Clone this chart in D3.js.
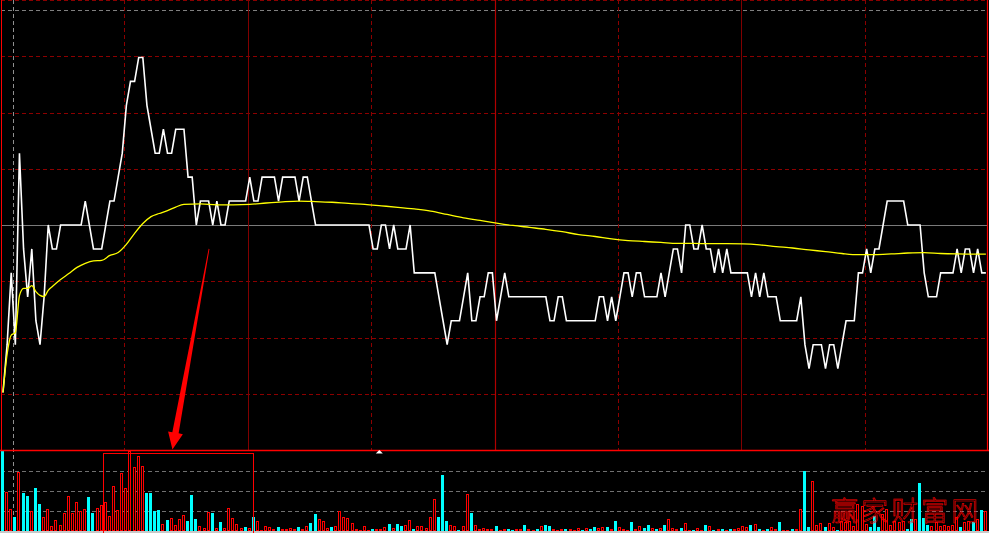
<!DOCTYPE html>
<html><head><meta charset="utf-8">
<script src="https://cdn.jsdelivr.net/npm/d3@7/dist/d3.min.js"></script>
<style>html,body{margin:0;padding:0;background:#000;overflow:hidden}</style>
</head><body><svg id="c" width="989" height="533"></svg>
<script>
// ---- data (price in ticks of 0.01 relative to previous close, minute index 0..239) ----
const priceTicks = [
-7,-5,-2,-5,3,-1,-3,-1,-4,-5,
-3,0,-1,-1,0,0,0,0,0,0,
1,0,-1,-1,-1,0,1,1,2,3,
5,6,6,7,7,5,4,3,3,4,
3,3,4,4,4,2,2,0,1,1,
1,0,1,0,0,1,1,1,1,1,
2,1,1,2,2,2,2,1,2,2,
2,2,1,2,2,1,0,0,0,0,
0,0,0,0,0,0,0,0,0,0,
-1,-1,0,0,-1,0,-1,-1,-1,0,
-2,-2,-2,-2,-2,-2,-3,-4,-5,-4,
-4,-4,-3,-2,-4,-4,-3,-3,-2,-2,
-4,-3,-2,-3,-3,-3,-3,-3,-3,-3,
-3,-3,-3,-4,-4,-3,-3,-4,-4,-4,
-4,-4,-4,-4,-4,-3,-3,-4,-3,-4,
-3,-2,-2,-3,-2,-2,-3,-3,-3,-3,
-2,-3,-2,-1,-1,-2,0,0,-1,-1,
0,-1,-1,-2,-1,-2,-1,-2,-2,-2,
-2,-2,-3,-2,-3,-2,-3,-3,-3,-4,
-4,-4,-4,-4,-3,-5,-6,-5,-5,-5,
-6,-5,-5,-6,-5,-4,-4,-4,-2,-2,
-1,-2,-1,-1,0,1,1,1,1,1,
0,0,0,0,-2,-3,-3,-3,-2,-2,
-2,-2,-1,-2,-1,-1,-2,-1,-2,-2];

const avgMinute = [0,1,2,3,4,5,6,7,8,9,10,11,12,14,16,18,20,22,24,26,28,30,32,34,36,38,40,42,44,48,52,56,60,64,68,72,76,80,84,88,92,96,100,104,108,112,116,120,124,128,132,136,140,144,148,152,156,160,164,168,172,176,180,184,188,192,196,200,204,208,212,216,220,224,228,232,236,239];
const avgTicks = [-7.0,-5.4,-4.6,-4.5,-2.95,-2.65,-2.65,-2.53,-2.78,-2.94,-2.99,-2.73,-2.57,-2.28,-2.03,-1.77,-1.6,-1.5,-1.48,-1.27,-1.15,-0.81,-0.35,0.06,0.35,0.48,0.6,0.75,0.86,0.88,0.84,0.84,0.86,0.92,0.97,1.0,0.98,0.95,0.9,0.86,0.8,0.74,0.67,0.58,0.44,0.3,0.19,0.08,-0.02,-0.1,-0.18,-0.28,-0.4,-0.48,-0.58,-0.65,-0.69,-0.73,-0.77,-0.77,-0.78,-0.78,-0.79,-0.83,-0.9,-0.96,-1.04,-1.11,-1.19,-1.24,-1.24,-1.21,-1.17,-1.15,-1.19,-1.21,-1.22,-1.22];

// volume per minute (hundreds of lots)
const volume = [
80,39,22,14,59,38,35,20,43,27,
14,22,5,11,6,18,35,18,29,20,
22,34,18,23,26,29,15,45,21,58,
43,80,64,75,65,38,38,20,21,7,
11,13,6,12,16,10,36,12,5,3,
19,18,3,9,3,23,13,7,3,4,
3,14,10,1,5,4,2,4,2,2,
3,2,4,2,5,8,17,12,10,3,
4,5,20,14,13,8,2,1,5,1,
2,2,2,4,7,3,7,5,6,11,
2,5,5,3,14,32,14,56,10,6,
5,1,5,37,18,6,2,3,2,2,
5,1,2,2,1,2,2,6,2,1,
2,5,6,5,2,1,2,2,2,1,
3,1,3,2,4,3,4,4,2,10,
4,2,1,9,2,5,3,6,3,2,
3,6,12,3,2,3,8,1,1,3,
1,6,5,1,2,2,1,2,2,3,
5,4,6,7,2,1,2,4,2,9,
1,1,2,2,22,60,4,50,6,8,
4,8,4,1,10,9,10,5,27,25,
7,4,15,4,17,22,6,10,9,10,
2,12,12,48,13,6,5,9,5,6,
5,6,14,4,9,10,9,12,21,20];
// 1 = up (red), -1 = down (cyan)
const volSide = [
-1,1,1,-1,1,-1,-1,1,-1,-1,
1,1,1,1,1,1,1,1,1,1,
1,-1,-1,1,1,1,1,1,1,1,
1,1,1,1,1,-1,-1,-1,-1,1,
-1,1,1,1,1,-1,-1,-1,1,1,
1,-1,1,-1,1,1,1,1,1,-1,
1,-1,1,1,1,1,1,-1,1,1,
1,1,-1,1,1,-1,-1,1,1,1,
-1,1,1,1,1,1,1,1,1,1,
-1,1,1,1,-1,1,-1,-1,1,1,
-1,1,1,1,1,1,-1,-1,-1,1,
1,-1,1,1,-1,1,1,1,1,1,
-1,1,1,-1,-1,1,1,-1,1,1,
-1,1,-1,-1,1,1,1,-1,1,1,
1,-1,1,-1,-1,1,1,-1,1,-1,
1,1,1,-1,1,1,-1,-1,1,-1,
1,-1,1,1,1,-1,1,1,-1,1,
1,-1,1,-1,1,-1,1,-1,1,1,
1,1,-1,1,-1,1,-1,1,1,-1,
1,1,-1,1,1,-1,-1,1,1,1,
-1,1,1,-1,1,1,1,1,1,1,
1,-1,-1,-1,1,1,1,1,1,1,
-1,-1,1,-1,-1,-1,1,1,1,1,
1,1,1,-1,1,1,-1,1,-1,1];

const solidTimeGrid = [60, 180];
const midTimeGrid = [120];
const dashedTimeGrid = [30, 90, 150, 210];
const priceGridSteps = [-4,-3,-2,-1,1,2,3,4];
const volGridLevels = [20, 40, 60];
const upperRefTicks = 9.0;
const cursorMinute = 2.35;
const markMinute = 91.5;
const boxRange = {from: 24.9, to: 61.35, top: 77.7};
const arrowFrom = {minute: 50.1, tick: -1.0};
const arrowTo = {minute: 41.2, tick: -9.38};
const watermark = "赢家财富网";

// ---- scales ----
const W = 989, H = 533;
const x = d3.scaleLinear().domain([0, 240]).range([1, 988]);
const px = m => x(m) + 2;
const yMax = 9.4;
const y = d3.scaleLinear().domain([-yMax, yMax]).range([450, 0]);
const yv = d3.scaleLinear().domain([0, 80]).range([531, 451]);

const svg = d3.select('#c');
svg.append('rect').attr('width', W).attr('height', H).attr('fill', '#000');

const g = svg.append('g');
const gridRed = '#8c0000';

// horizontal price grid
g.selectAll('.hg').data(priceGridSteps).join('line')
  .attr('x1', x(0)).attr('x2', x(240))
  .attr('y1', d => Math.round(y(d * yMax / 4)) + 0.5).attr('y2', d => Math.round(y(d * yMax / 4)) + 0.5)
  .attr('stroke', gridRed).attr('stroke-width', 1).attr('stroke-dasharray', '4,3');
// previous close line
g.append('line').attr('x1', x(0)).attr('x2', x(240))
  .attr('y1', Math.round(y(0)) + 0.5).attr('y2', Math.round(y(0)) + 0.5)
  .attr('stroke', '#7a7a7a').attr('stroke-width', 1);
// upper gray dashed reference
g.append('line').attr('x1', x(0)).attr('x2', x(240))
  .attr('y1', Math.round(y(upperRefTicks)) + 0.5).attr('y2', Math.round(y(upperRefTicks)) + 0.5)
  .attr('stroke', '#808080').attr('stroke-width', 1).attr('stroke-dasharray', '4,3');

// vertical time grid
g.selectAll('.vd').data(dashedTimeGrid).join('line')
  .attr('x1', d => Math.round(x(d)) + 0.5).attr('x2', d => Math.round(x(d)) + 0.5)
  .attr('y1', 0).attr('y2', 450)
  .attr('stroke', gridRed).attr('stroke-width', 1).attr('stroke-dasharray', '4,3');
g.selectAll('.vs').data(solidTimeGrid).join('line')
  .attr('x1', d => Math.round(x(d)) + 0.5).attr('x2', d => Math.round(x(d)) + 0.5)
  .attr('y1', 0).attr('y2', 450)
  .attr('stroke', '#800000').attr('stroke-width', 1);
g.selectAll('.vm').data(midTimeGrid).join('line')
  .attr('x1', d => Math.round(x(d)) + 0.5).attr('x2', d => Math.round(x(d)) + 0.5)
  .attr('y1', 0).attr('y2', 450)
  .attr('stroke', '#b00000').attr('stroke-width', 1.2);

// volume grid
g.selectAll('.vg').data(volGridLevels).join('line')
  .attr('x1', x(0)).attr('x2', x(240))
  .attr('y1', d => Math.round(yv(d)) + 0.5).attr('y2', d => Math.round(yv(d)) + 0.5)
  .attr('stroke', '#707070').attr('stroke-width', 1).attr('stroke-dasharray', '4,3');

// cursor gray dashed vertical
g.append('line').attr('x1', Math.round(px(cursorMinute)) + 0.5).attr('x2', Math.round(px(cursorMinute)) + 0.5)
  .attr('y1', 0).attr('y2', H)
  .attr('stroke', '#909090').attr('stroke-width', 1).attr('stroke-dasharray', '4,3');

// volume bars
const bars = volume.map((v, i) => ({i, v, s: volSide[i]}));
const bw = 3;
g.selectAll('.bc').data(bars.filter(d => d.s < 0)).join('rect')
  .attr('x', d => Math.round(x(d.i))).attr('width', bw)
  .attr('y', d => Math.round(yv(d.v))).attr('height', d => Math.max(1, 531 - Math.round(yv(d.v))))
  .attr('fill', '#00ffff').attr('shape-rendering', 'crispEdges');
g.selectAll('.br').data(bars.filter(d => d.s > 0)).join('rect')
  .attr('x', d => Math.round(x(d.i)) + 0.5).attr('width', bw - 1)
  .attr('y', d => Math.round(yv(d.v)) + 0.5).attr('height', d => Math.max(0.5, 531 - Math.round(yv(d.v)) - 1))
  .attr('fill', d => (531 - yv(d.v)) <= 2.5 ? '#ff0000' : '#000')
  .attr('stroke', '#ff0000').attr('stroke-width', 1).attr('shape-rendering', 'crispEdges');

// bottom strip
g.append('rect').attr('x', 0).attr('y', 531).attr('width', W).attr('height', 2).attr('fill', '#c8c8c8');

// highlight box in volume panel
g.append('rect')
  .attr('x', Math.round(x(boxRange.from)) + 0.5).attr('y', Math.round(yv(boxRange.top)) + 0.5)
  .attr('width', Math.round(x(boxRange.to) - x(boxRange.from))).attr('height', 540 - yv(boxRange.top))
  .attr('fill', 'none').attr('stroke', '#ff0000').attr('stroke-width', 1);

// price line
const line = d3.line().x((d, i) => px(i)).y(d => y(d));
g.append('path').datum(priceTicks).attr('d', line)
  .attr('fill', 'none').attr('stroke', '#ffffff').attr('stroke-width', 1.6).attr('stroke-linejoin', 'miter');

// average line
const aline = d3.line().x(d => px(d[0])).y(d => y(d[1])).curve(d3.curveMonotoneX);
g.append('path').datum(avgMinute.map((m, i) => [m, avgTicks[i]])).attr('d', aline)
  .attr('fill', 'none').attr('stroke', '#ffff00').attr('stroke-width', 1.3);

// panel borders
g.append('line').attr('x1', 0).attr('x2', W).attr('y1', 450.5).attr('y2', 450.5)
  .attr('stroke', '#ff0000').attr('stroke-width', 1.3);
g.append('line').attr('x1', 1.5).attr('x2', 1.5).attr('y1', 0).attr('y2', 451)
  .attr('stroke', '#ff0000').attr('stroke-width', 1);
g.append('line').attr('x1', Math.round(x(240)) - 0.5).attr('x2', Math.round(x(240)) - 0.5).attr('y1', 0).attr('y2', 451)
  .attr('stroke', '#ff0000').attr('stroke-width', 1.2);

// small white marker
const mx = px(markMinute);
g.append('path').attr('d', `M${mx},450 L${mx - 3.5},453.5 L${mx + 3.5},453.5 Z`).attr('fill', '#fff');

// arrow annotation
(function () {
  const T = [px(arrowFrom.minute), y(arrowFrom.tick)];
  const P = [px(arrowTo.minute), y(arrowTo.tick)];
  const dx = P[0] - T[0], dy = P[1] - T[1];
  const L = Math.hypot(dx, dy);
  const u = [dx / L, dy / L], n = [-u[1], u[0]];
  const headLen = 17, shaftHalf = 3.2, headHalf = 7.5, tailHalf = 0.4;
  const B = [P[0] - u[0] * headLen, P[1] - u[1] * headLen];
  const pts = [
    [T[0] + n[0] * tailHalf, T[1] + n[1] * tailHalf],
    [B[0] + n[0] * shaftHalf, B[1] + n[1] * shaftHalf],
    [B[0] + n[0] * headHalf, B[1] + n[1] * headHalf],
    P,
    [B[0] - n[0] * headHalf, B[1] - n[1] * headHalf],
    [B[0] - n[0] * shaftHalf, B[1] - n[1] * shaftHalf],
    [T[0] - n[0] * tailHalf, T[1] - n[1] * tailHalf]
  ];
  g.append('path').attr('d', 'M' + pts.map(p => p.join(',')).join('L') + 'Z').attr('fill', '#ff0000');
})();

// watermark (hollow, thin strokes)
g.append('text').attr('x', 831).attr('y', 521)
  .attr('font-family', '"Noto Sans CJK SC", sans-serif').attr('font-size', 27)
  .attr('font-weight', 300)
  .attr('letter-spacing', 3)
  .attr('fill', 'none').attr('stroke', '#ff0000').attr('stroke-width', 0.6)
  .text(watermark);
</script>
</body></html>
